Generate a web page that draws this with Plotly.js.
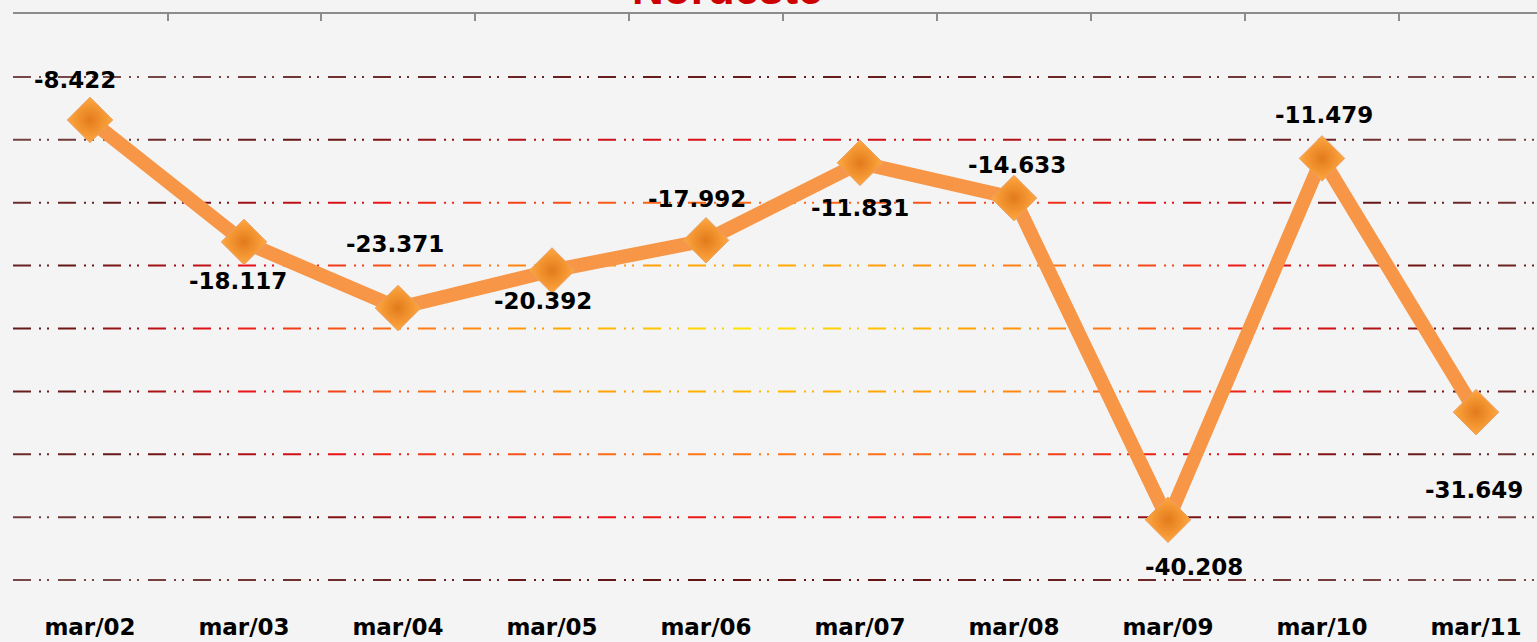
<!DOCTYPE html>
<html>
<head>
<meta charset="utf-8">
<script src="https://cdn.plot.ly/plotly-3.0.1.min.js"></script>
<style>
html,body{margin:0;padding:0;background:#f4f4f4;}
#chart{width:1537px;height:642px;}
</style>
</head>
<body>
<div id="chart"></div>
<script>
// ---- data ----
const categories = ['mar/02','mar/03','mar/04','mar/05','mar/06','mar/07','mar/08','mar/09','mar/10','mar/11'];
const values = [-8422, -18117, -23371, -20392, -17992, -11831, -14633, -40208, -11479, -31649];
const gridValues = [-5000, -10000, -15000, -20000, -25000, -30000, -35000, -40000, -45000];
const chartTitle = 'Nordeste';

// ---- styling (label offsets in px) ----
const labelShiftY = [40, -39, 64, -30, 41, -45, 33, -47, 43, -78];
const labelShiftX = [-15, -6, -3, -9, -9, 0, 3, 26, 2, -2];

const W = 1537, H = 642;
const M = {l: 13, r: 0, t: 14, b: 34};
const plotW = W - M.l - M.r, plotH = H - M.t - M.b;
const pxPerUnit = 12.58 / 1000;
const yMin = -plotH / pxPerUnit;
const pxPerCat = 154;
const xMin = -0.5, xMax = -0.5 + plotW / pxPerCat;

function fmt(v) {
  const s = Math.round(Math.abs(v)).toString().replace(/\B(?=(\d{3})+(?!\d))/g, '.');
  return (v < 0 ? '-' : '') + s;
}

// gradient colour for the grid lines (radial, yellow centre to dark edges)
const stops = [
  [0.00, [255, 232, 0]],
  [0.22, [255, 176, 0]],
  [0.44, [255, 118, 24]],
  [0.68, [232, 16, 24]],
  [0.88, [100, 20, 20]],
  [1.20, [120, 72, 72]]
];
function gradColor(px, py) {
  const dx = (px - 770) / 800, dy = (py - 335) / 280;
  let d = Math.sqrt(dx * dx + dy * dy);
  if (d <= stops[0][0]) return 'rgb(' + stops[0][1].join(',') + ')';
  for (let i = 1; i < stops.length; i++) {
    if (d <= stops[i][0]) {
      const t = (d - stops[i-1][0]) / (stops[i][0] - stops[i-1][0]);
      const c = stops[i-1][1].map((a, k) => Math.round(a + (stops[i][1][k] - a) * t));
      return 'rgb(' + c.join(',') + ')';
    }
  }
  return 'rgb(' + stops[stops.length-1][1].join(',') + ')';
}

const shapes = [];
const segPx = 45;
gridValues.forEach(g => {
  const py = M.t + (-g) * pxPerUnit;
  for (let sx = 0; sx < plotW; sx += segPx) {
    const x0 = sx / plotW, x1 = Math.min(sx + segPx, plotW) / plotW;
    shapes.push({
      type: 'line', xref: 'paper', yref: 'y', layer: 'below',
      x0: x0, x1: x1, y0: g, y1: g,
      line: {color: gradColor(M.l + sx + segPx / 2, py), width: 2, dash: '18px,8px,2px,6px,2px,9px'}
    });
  }
});

const annotations = values.map((v, i) => ({
  x: categories[i], y: v, xref: 'x', yref: 'y',
  text: fmt(v), showarrow: false,
  xshift: labelShiftX[i], yshift: labelShiftY[i],
  xanchor: 'center', yanchor: 'middle',
  font: {family: 'DejaVu Sans', size: 23, color: '#000000', weight: 'bold'}
}));
annotations.push({
  xref: 'paper', yref: 'paper', x: (727 - M.l) / plotW, y: 1 + 26 / plotH,
  xanchor: 'center', yanchor: 'middle', showarrow: false,
  text: '<b>' + chartTitle + '</b>',
  font: {family: 'Liberation Sans', size: 44, color: '#cc0000'}
});

const traces = [
  {
    type: 'scatter', mode: 'lines+markers',
    x: categories, y: values,
    line: {color: '#f79646', width: 14},
    marker: {
      symbol: 'diamond', size: 35, color: '#ffa840',
      gradient: {type: 'radial', color: '#e27a1c'},
      line: {color: '#e8a068', width: 1}
    },
    hoverinfo: 'x+y', cliponaxis: false
  },
  {
    type: 'scatter', mode: 'markers', x: [], y: [], xaxis: 'x2', yaxis: 'y',
    hoverinfo: 'skip', showlegend: false
  }
];

const tickBounds = categories.map((c, i) => i - 0.5).concat([categories.length - 0.5]);

const layout = {
  width: W, height: H,
  margin: M,
  paper_bgcolor: '#f4f4f4',
  plot_bgcolor: 'rgba(0,0,0,0)',
  showlegend: false,
  separators: ',.',
  xaxis: {
    type: 'category', range: [xMin, xMax],
    showline: false, showgrid: false, zeroline: false, ticks: '',
    tickfont: {family: 'DejaVu Sans', size: 23, color: '#000000', weight: 'bold'},
    ticklabelstandoff: 3
  },
  xaxis2: {
    overlaying: 'x', side: 'top', anchor: 'y', type: 'linear',
    range: [xMin - 0.004, xMax], showline: true, linecolor: '#8c8c8c', linewidth: 2,
    ticks: 'inside', ticklen: 7, tickwidth: 2, tickcolor: '#8c8c8c',
    tickmode: 'array', tickvals: tickBounds, showticklabels: false,
    showgrid: false, zeroline: false
  },
  yaxis: {
    range: [yMin, 0], showgrid: false, zeroline: false, showline: false,
    showticklabels: false, ticks: ''
  },
  shapes: shapes,
  annotations: annotations
};

Plotly.newPlot('chart', traces, layout, {displayModeBar: false, staticPlot: true});
</script>
</body>
</html>
